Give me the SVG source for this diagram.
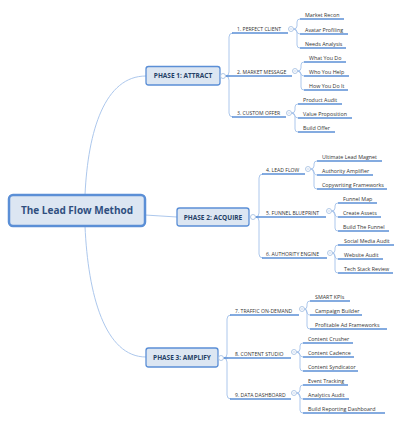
<svg xmlns="http://www.w3.org/2000/svg" width="403" height="422" viewBox="0 0 403 422">
<style>
.bg{fill:#ffffff}
.root rect{fill:#dce6f2;stroke:#5b8fd6;stroke-width:2.5}
.root text{font-family:"Open Sans","Liberation Sans",sans-serif;font-weight:bold;font-size:10px;fill:#2f4f7f;text-anchor:middle}
.phase rect{fill:#dce6f2;stroke:#5b8fd6;stroke-width:1.3}
.phase text{font-family:"Open Sans","Liberation Sans",sans-serif;font-weight:bold;font-size:6.5px;fill:#243f66;text-anchor:middle}
.thin{fill:none;stroke:#a3c1ea;stroke-width:0.9}
.ul{fill:none;stroke:#5b8fd6;stroke-width:1.5}
.tog{fill:#ffffff;stroke:#9fbbe0;stroke-width:0.8}
.minus{stroke:#9fbbe0;stroke-width:0.6}
.l2{font-family:"Open Sans","Liberation Sans",sans-serif;font-size:5.1px;fill:#333333}
.leaf{font-family:"Open Sans","Liberation Sans",sans-serif;font-size:5.35px;fill:#333333}
</style>
<rect class="bg" x="0" y="0" width="403" height="422"/>

<g id="connectors">
  <!-- root to phases -->
  <path class="thin" d="M85,195 C88,130 105,76 146,76"/>
  <path class="thin" d="M145,215 L177,217"/>
  <path class="thin" d="M85,226 C88,295 105,357 146,357"/>
  <!-- phase 1 branches -->
  <path class="thin" d="M225.5,76 Q229,76 229,72 V37 Q229,33 233,33"/>
  <path class="thin" d="M225.5,76 H230"/>
  <path class="thin" d="M225.5,76 Q229,76 229,80 V113 Q229,117 233,117"/>
  <!-- phase 2 branches -->
  <path class="thin" d="M255.5,217 Q259,217 259,213 V178 Q259,174 263,174"/>
  <path class="thin" d="M255.5,217 H260"/>
  <path class="thin" d="M255.5,217 Q259,217 259,221 V254 Q259,258 263,258"/>
  <!-- phase 3 branches -->
  <path class="thin" d="M223.5,358 Q227,358 227,354 V319 Q227,315 231,315"/>
  <path class="thin" d="M223.5,358 H228"/>
  <path class="thin" d="M223.5,358 Q227,358 227,362 V395 Q227,399 231,399"/>
  <!-- leaf brackets -->
  <path class="thin" d="M293.5,29 Q297,29 297,26 V22 Q297,19 300,19"/>
  <path class="thin" d="M293.5,29 C297,29 296,34 300,34"/>
  <path class="thin" d="M293.5,29 Q297,29 297,32 V45 Q297,48 300,48"/>
  <path class="thin" d="M297.5,71 Q301,71 301,68 V65 Q301,62 304,62"/>
  <path class="thin" d="M297.5,71 C301,71 300,76 304,76"/>
  <path class="thin" d="M297.5,71 Q301,71 301,74 V87 Q301,90 304,90"/>
  <path class="thin" d="M291.5,113 Q295,113 295,110 V107 Q295,104 298,104"/>
  <path class="thin" d="M291.5,113 C295,113 294,118 298,118"/>
  <path class="thin" d="M291.5,113 Q295,113 295,116 V129 Q295,132 298,132"/>
  <path class="thin" d="M310.5,169 Q314,169 314,166 V164 Q314,161 317,161"/>
  <path class="thin" d="M310.5,169 C314,169 313,175 317,175"/>
  <path class="thin" d="M310.5,169 Q314,169 314,172 V186 Q314,189 317,189"/>
  <path class="thin" d="M331.5,211 Q335,211 335,208 V206 Q335,203 338,203"/>
  <path class="thin" d="M331.5,211 C335,211 334,217 338,217"/>
  <path class="thin" d="M331.5,211 Q335,211 335,214 V228 Q335,231 338,231"/>
  <path class="thin" d="M332.5,253 Q335,253 335,250 V248 Q335,245 338,245"/>
  <path class="thin" d="M332.5,253 C335,253 334,259 338,259"/>
  <path class="thin" d="M332.5,253 Q335,253 335,256 V270 Q335,273 338,273"/>
  <path class="thin" d="M304.5,309 Q307,309 307,306 V304 Q307,301 310,301"/>
  <path class="thin" d="M304.5,309 C307,309 306,315 310,315"/>
  <path class="thin" d="M304.5,309 Q307,309 307,312 V326 Q307,329 310,329"/>
  <path class="thin" d="M296.5,352 Q300,352 300,349 V346 Q300,343 303,343"/>
  <path class="thin" d="M296.5,352 C300,352 299,357 303,357"/>
  <path class="thin" d="M296.5,352 Q300,352 300,355 V368 Q300,371 303,371"/>
  <path class="thin" d="M296.5,393 Q300,393 300,390 V388 Q300,385 303,385"/>
  <path class="thin" d="M296.5,393 C300,393 299,399 303,399"/>
  <path class="thin" d="M296.5,393 Q300,393 300,396 V410 Q300,413 303,413"/>
</g>

<g id="root" class="root">
  <rect x="9" y="195" width="136" height="31" rx="4"/>
  <text x="77" y="214">The Lead Flow Method</text>
</g>

<g id="phase1" class="phase">
  <rect x="146" y="66.5" width="74" height="18.5" rx="2.5"/>
  <text x="183" y="78">PHASE 1: ATTRACT</text>
  <circle class="tog" cx="223" cy="76" r="2.5"/>
</g>
<g id="phase2" class="phase">
  <rect x="177" y="208" width="72" height="18" rx="2.5"/>
  <text x="213" y="219.5">PHASE 2: ACQUIRE</text>
  <circle class="tog" cx="253" cy="217" r="2.5"/>
</g>
<g id="phase3" class="phase">
  <rect x="146" y="348" width="72" height="19" rx="2.5"/>
  <text x="182" y="360">PHASE 3: AMPLIFY</text>
  <circle class="tog" cx="221" cy="358" r="2.5"/>
</g>

<!-- level 2 -->
<g id="item1"><path class="ul" d="M232,33 H288"/><text class="l2" x="237" y="31">1. PERFECT CLIENT</text><circle class="tog" cx="291" cy="29" r="2.5"/><path class="minus" d="M289.8,29 H292.2"/></g>
<g id="item2"><path class="ul" d="M226,76 H292"/><text class="l2" x="237" y="74">2. MARKET MESSAGE</text><circle class="tog" cx="295" cy="71" r="2.5"/><path class="minus" d="M293.8,71 H296.2"/></g>
<g id="item3"><path class="ul" d="M232,117 H286"/><text class="l2" x="237" y="115">3. CUSTOM OFFER</text><circle class="tog" cx="289" cy="113" r="2.5"/><path class="minus" d="M287.8,113 H290.2"/></g>
<g id="item4"><path class="ul" d="M262,174 H305"/><text class="l2" x="266" y="172">4. LEAD FLOW</text><circle class="tog" cx="308" cy="169" r="2.5"/><path class="minus" d="M306.8,169 H309.2"/></g>
<g id="item5"><path class="ul" d="M256,217 H326"/><text class="l2" x="266" y="215">5. FUNNEL BLUEPRINT</text><circle class="tog" cx="329" cy="211" r="2.5"/><path class="minus" d="M327.8,211 H330.2"/></g>
<g id="item6"><path class="ul" d="M262,258 H327"/><text class="l2" x="266" y="256">6. AUTHORITY ENGINE</text><circle class="tog" cx="330" cy="253" r="2.5"/><path class="minus" d="M328.8,253 H331.2"/></g>
<g id="item7"><path class="ul" d="M230,315 H299"/><text class="l2" x="235" y="313">7. TRAFFIC ON-DEMAND</text><circle class="tog" cx="302" cy="309" r="2.5"/><path class="minus" d="M300.8,309 H303.2"/></g>
<g id="item8"><path class="ul" d="M224,358 H291"/><text class="l2" x="235" y="356">8. CONTENT STUDIO</text><circle class="tog" cx="294" cy="352" r="2.5"/><path class="minus" d="M292.8,352 H295.2"/></g>
<g id="item9"><path class="ul" d="M230,399 H291"/><text class="l2" x="235" y="397">9. DATA DASHBOARD</text><circle class="tog" cx="294" cy="393" r="2.5"/><path class="minus" d="M292.8,393 H295.2"/></g>

<!-- leaves -->
<g id="leaf1a"><path class="ul" d="M300,19 H344"/><text class="leaf" x="305" y="16.5">Market Recon</text></g>
<g id="leaf1b"><path class="ul" d="M300,34 H348"/><text class="leaf" x="305" y="31.5">Avatar Profiling</text></g>
<g id="leaf1c"><path class="ul" d="M300,48 H346"/><text class="leaf" x="305" y="45.5">Needs Analysis</text></g>
<g id="leaf2a"><path class="ul" d="M304,62 H346"/><text class="leaf" x="309" y="59.5">What You Do</text></g>
<g id="leaf2b"><path class="ul" d="M304,76 H349"/><text class="leaf" x="309" y="73.5">Who You Help</text></g>
<g id="leaf2c"><path class="ul" d="M304,90 H348"/><text class="leaf" x="309" y="87.5">How You Do It</text></g>
<g id="leaf3a"><path class="ul" d="M298,104 H342"/><text class="leaf" x="303" y="101.5">Product Audit</text></g>
<g id="leaf3b"><path class="ul" d="M298,118 H352"/><text class="leaf" x="303" y="115.5">Value Proposition</text></g>
<g id="leaf3c"><path class="ul" d="M298,132 H335"/><text class="leaf" x="303" y="129.5">Build Offer</text></g>
<g id="leaf4a"><path class="ul" d="M317,161 H382"/><text class="leaf" x="322" y="158.5">Ultimate Lead Magnet</text></g>
<g id="leaf4b"><path class="ul" d="M317,175 H373"/><text class="leaf" x="322" y="172.5">Authority Amplifier</text></g>
<g id="leaf4c"><path class="ul" d="M317,189 H387"/><text class="leaf" x="322" y="186.5">Copywriting Frameworks</text></g>
<g id="leaf5a"><path class="ul" d="M338,203 H377"/><text class="leaf" x="343" y="200.5">Funnel Map</text></g>
<g id="leaf5b"><path class="ul" d="M338,217 H381"/><text class="leaf" x="343" y="214.5">Create Assets</text></g>
<g id="leaf5c"><path class="ul" d="M338,231 H389"/><text class="leaf" x="343" y="228.5">Build The Funnel</text></g>
<g id="leaf6a"><path class="ul" d="M338,245 H394"/><text class="leaf" x="344" y="242.5">Social Media Audit</text></g>
<g id="leaf6b"><path class="ul" d="M338,259 H383"/><text class="leaf" x="344" y="256.5">Website Audit</text></g>
<g id="leaf6c"><path class="ul" d="M338,273 H393"/><text class="leaf" x="344" y="270.5">Tech Stack Review</text></g>
<g id="leaf7a"><path class="ul" d="M310,301 H350"/><text class="leaf" x="315" y="298.5">SMART KPIs</text></g>
<g id="leaf7b"><path class="ul" d="M310,315 H362"/><text class="leaf" x="315" y="312.5">Campaign Builder</text></g>
<g id="leaf7c"><path class="ul" d="M310,329 H387"/><text class="leaf" x="315" y="326.5">Profitable Ad Frameworks</text></g>
<g id="leaf8a"><path class="ul" d="M303,343 H353"/><text class="leaf" x="308" y="340.5">Content Crusher</text></g>
<g id="leaf8b"><path class="ul" d="M303,357 H354"/><text class="leaf" x="308" y="354.5">Content Cadence</text></g>
<g id="leaf8c"><path class="ul" d="M303,371 H358"/><text class="leaf" x="308" y="368.5">Content Syndicator</text></g>
<g id="leaf9a"><path class="ul" d="M303,385 H348"/><text class="leaf" x="308" y="382.5">Event Tracking</text></g>
<g id="leaf9b"><path class="ul" d="M303,399 H349"/><text class="leaf" x="308" y="396.5">Analytics Audit</text></g>
<g id="leaf9c"><path class="ul" d="M303,413 H385"/><text class="leaf" x="308" y="410.5">Build Reporting Dashboard</text></g>
</svg>
